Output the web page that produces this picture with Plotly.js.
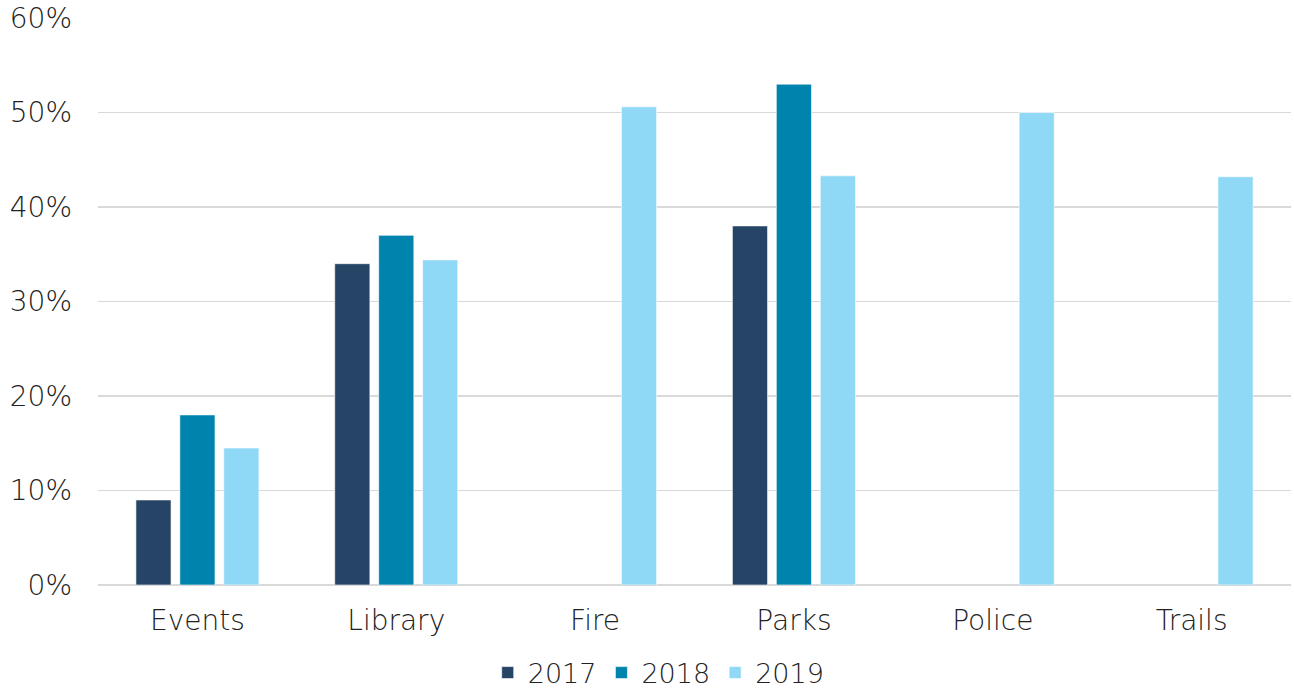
<!DOCTYPE html>
<html>
<head>
<meta charset="utf-8">
<script src="https://cdn.plot.ly/plotly-3.0.1.min.js"></script>
<style>html,body{margin:0;padding:0;background:#fff;}#chart{width:1294px;height:691px;}</style>
</head>
<body>
<div id="chart"></div>
<script>
const categories = ["Events", "Library", "Fire", "Parks", "Police", "Trails"];
const series2017 = [0.09, 0.34, null, 0.38, null, null];
const series2018 = [0.18, 0.37, null, 0.53, null, null];
const series2019 = [0.145, 0.344, 0.506, 0.433, 0.50, 0.432];
const seriesNames = ["2017", "2018", "2019"];
const colors = ["#264466", "#0084AE", "#8FD8F6"];

const allSeries = [series2017, series2018, series2019];
const traces = allSeries.map((vals, i) => ({
  type: "bar",
  name: seriesNames[i],
  x: categories,
  y: vals,
  marker: {color: colors[i], line: {color: "rgba(255,255,255,0.6)", width: 1}},
  hoverinfo: "skip"
}));

const fontFam = "'DejaVu Sans', sans-serif";
const fw = 200;
const fs = 28;
const layout = {
  width: 1294, height: 691,
  margin: {l: 98, r: 3, t: 18, b: 106, autoexpand: false},
  paper_bgcolor: "#fff", plot_bgcolor: "#fff",
  barmode: "group",
  bargap: 0.337,
  bargroupgap: 0.2,
  font: {family: fontFam, size: fs, color: "#222", weight: fw},
  xaxis: {
    type: "category",
    showgrid: false, showline: false, zeroline: false,
    ticks: "", ticklen: 0,
    ticklabelstandoff: 16,
    tickfont: {family: fontFam, size: fs, color: "#222", weight: fw}
  },
  yaxis: {
    range: [0, 0.6],
    tickvals: [0, 0.1, 0.2, 0.3, 0.4, 0.5, 0.6],
    tickformat: ".0%",
    showgrid: true, gridcolor: "#d9d9d9", gridwidth: 1.5,
    zeroline: true, zerolinecolor: "#d9d9d9", zerolinewidth: 1.5,
    showline: false, ticks: "",
    ticklabelstandoff: 25,
    tickfont: {family: fontFam, size: fs, color: "#222", weight: fw}
  },
  showlegend: true,
  legend: {
    orientation: "h", x: 0.47, xanchor: "center",
    yref: "container", y: 0.026, yanchor: "middle",
    font: {family: fontFam, size: 27, color: "#222", weight: fw},
    itemwidth: 30, traceorder: "normal"
  }
};

Plotly.newPlot("chart", traces, layout, {displayModeBar: false, staticPlot: true});
</script>
</body>
</html>
